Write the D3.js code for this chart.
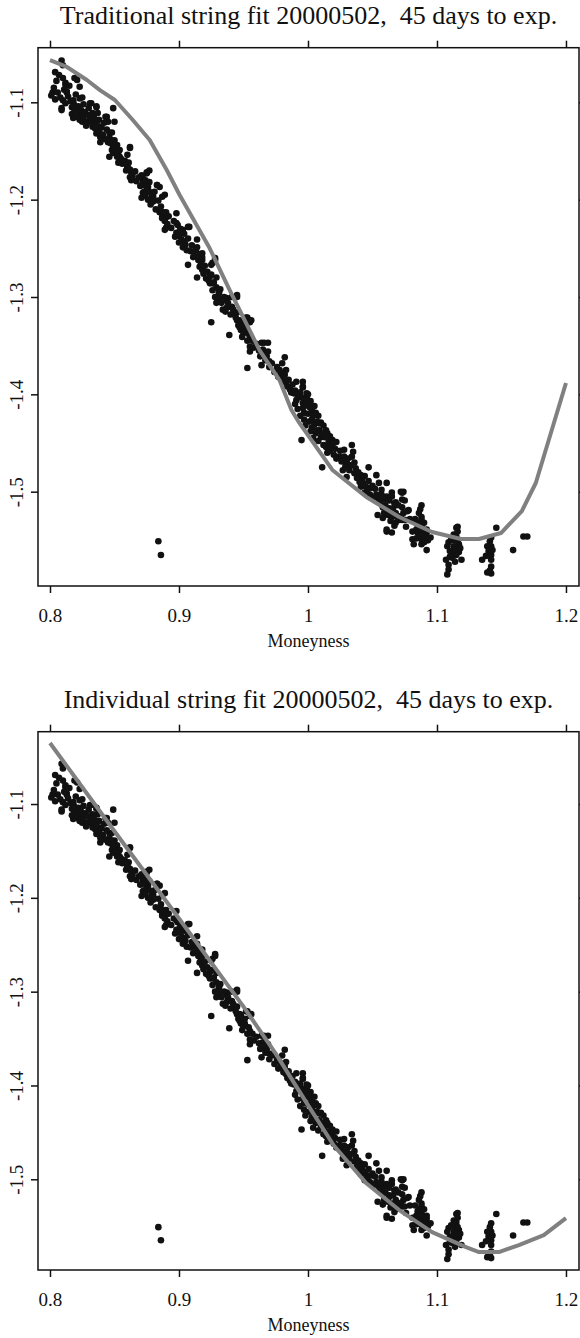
<!DOCTYPE html>
<html>
<head>
<meta charset="utf-8">
<script src="https://cdn.jsdelivr.net/npm/d3@7"></script>
<style>
  body { margin: 0; background: #fff; }
  svg { display: block; }
  text { font-family: "Liberation Serif", "Times New Roman", serif; fill: #111; }
</style>
</head>
<body>
<svg id="chart" width="580" height="1338"></svg>
<script>
// Observed implied-volatility points: [moneyness, log value]
const observed = [
  [0.809,-1.057],[0.810,-1.062],[0.804,-1.069],[0.810,-1.075],[0.819,-1.075],[0.812,-1.082],[0.823,-1.084],
  [0.802,-1.090],[0.806,-1.090],[0.804,-1.097],[0.813,-1.089],[0.818,-1.098],[0.823,-1.096],[0.809,-1.106],
  [0.817,-1.105],[0.821,-1.108],[0.825,-1.113],[0.818,-1.116],[0.831,-1.101],[0.836,-1.104],[0.833,-1.111],
  [0.829,-1.120],[0.833,-1.123],[0.839,-1.125],[0.844,-1.115],[0.849,-1.106],[0.850,-1.120],[0.846,-1.131],
  [0.839,-1.136],[0.850,-1.139],[0.862,-1.146],[0.849,-1.146],[0.854,-1.156],[0.853,-1.162],[0.860,-1.167],
  [0.864,-1.172],[0.875,-1.173],[0.872,-1.182],[0.876,-1.187],[0.872,-1.193],[0.880,-1.197],[0.889,-1.195],
  [0.885,-1.187],
  [0.812,-1.080],[0.821,-1.077],[0.813,-1.090],[0.810,-1.098],[0.809,-1.108],[0.818,-1.100],[0.819,-1.108],
  [0.822,-1.111],[0.825,-1.095],[0.825,-1.120],[0.832,-1.101],[0.836,-1.105],[0.837,-1.111],[0.831,-1.118],
  [0.833,-1.125],[0.843,-1.115],[0.845,-1.120],[0.836,-1.132],[0.848,-1.131],[0.839,-1.141],[0.845,-1.141],
  [0.852,-1.144],[0.848,-1.149],[0.853,-1.151],[0.846,-1.156],[0.854,-1.161],[0.862,-1.147],[0.860,-1.154],
  [0.860,-1.166],[0.863,-1.172],[0.862,-1.177],[0.875,-1.172],[0.872,-1.178],[0.873,-1.185],[0.875,-1.190],
  [0.871,-1.198],[0.879,-1.197],[0.883,-1.185],[0.887,-1.197],[0.880,-1.202],[0.885,-1.213],[0.887,-1.218],
  [0.890,-1.218],[0.890,-1.229],[0.898,-1.214],[0.898,-1.224],[0.899,-1.234],[0.907,-1.228],[0.900,-1.244],
  [0.904,-1.243],[0.914,-1.241],[0.914,-1.249],
  [0.877,-1.170],[0.877,-1.182],[0.883,-1.185],[0.879,-1.200],[0.887,-1.213],[0.890,-1.213],[0.887,-1.219],
  [0.903,-1.231],[0.898,-1.234],[0.889,-1.231],[0.908,-1.228],[0.903,-1.249],[0.906,-1.252],[0.911,-1.259],
  [0.918,-1.259],[0.907,-1.267],[0.916,-1.269],[0.914,-1.280],[0.925,-1.267],[0.928,-1.262],[0.924,-1.279],
  [0.926,-1.286],[0.929,-1.290],[0.931,-1.296],[0.928,-1.300],[0.937,-1.303],[0.945,-1.300],[0.939,-1.310],
  [0.934,-1.313],[0.925,-1.326],[0.945,-1.316],[0.947,-1.324],[0.948,-1.334],[0.952,-1.321],[0.955,-1.326],
  [0.939,-1.339],[0.949,-1.341],[0.955,-1.342],[0.966,-1.347],[0.969,-1.347],[0.955,-1.351],
  [0.918,-1.255],[0.918,-1.262],[0.918,-1.272],[0.926,-1.265],[0.928,-1.260],[0.929,-1.280],[0.924,-1.286],
  [0.931,-1.295],[0.931,-1.303],[0.929,-1.306],[0.937,-1.301],[0.941,-1.300],[0.945,-1.298],[0.937,-1.311],
  [0.941,-1.310],[0.943,-1.316],[0.945,-1.324],[0.953,-1.321],[0.956,-1.324],[0.947,-1.331],
  [0.951,-1.334],[0.964,-1.347],[0.965,-1.354],[0.969,-1.356],[0.968,-1.361],[0.964,-1.370],[0.970,-1.366],
  [0.955,-1.356],[0.953,-1.373],[0.982,-1.362],[0.980,-1.368],[0.978,-1.375],[0.983,-1.375],[0.980,-1.382],
  [0.991,-1.387],[0.996,-1.387],[0.983,-1.388],[0.986,-1.395],[0.989,-1.399],[0.993,-1.403],[0.996,-1.392],
  [0.999,-1.403],[0.991,-1.406],[0.996,-1.409],[1.003,-1.413],[0.999,-1.399],
  [0.996,-1.393],[0.995,-1.403],[0.999,-1.406],[1.001,-1.413],[0.997,-1.419],[1.003,-1.416],[1.006,-1.419],
  [1.003,-1.426],[1.007,-1.428],[1.010,-1.429],[1.003,-1.434],[1.009,-1.437],[1.006,-1.440],[1.010,-1.444],
  [0.995,-1.447],[1.015,-1.440],[1.019,-1.447],[1.014,-1.454],[1.018,-1.455],[1.015,-1.460],[1.020,-1.462],
  [1.024,-1.464],[1.034,-1.452],[1.028,-1.464],[1.030,-1.470],[1.034,-1.464],[1.036,-1.470],[1.032,-1.478],
  [1.027,-1.478],[1.036,-1.481],[1.030,-1.485],[1.011,-1.475],[1.041,-1.483],[1.042,-1.488],[1.047,-1.475],
  [1.053,-1.483],[1.041,-1.495],[1.045,-1.495],[1.049,-1.496],[1.044,-1.501],[1.055,-1.491],[1.057,-1.498],
  [1.053,-1.503],[1.061,-1.491],[1.055,-1.508],[1.059,-1.508],[1.058,-1.516],[1.061,-1.505],[1.065,-1.505],
  [1.068,-1.511],[1.063,-1.517],[1.059,-1.522],[1.054,-1.524],[1.058,-1.527],[1.065,-1.526],[1.068,-1.522],
  [1.072,-1.500],[1.074,-1.500],[1.073,-1.508],[1.073,-1.516],[1.074,-1.522],[1.071,-1.529],[1.068,-1.532],
  [1.061,-1.541],[1.065,-1.542],[1.088,-1.514],[1.086,-1.522],[1.088,-1.529],[1.085,-1.534],[1.088,-1.536],
  [1.092,-1.539],[1.081,-1.541],[1.085,-1.542],[1.115,-1.537],[1.113,-1.544],[1.146,-1.537],
  [1.065,-1.501],[1.067,-1.512],[1.063,-1.519],[1.061,-1.539],[1.073,-1.501],[1.073,-1.529],[1.078,-1.519],
  [1.076,-1.536],[1.088,-1.526],[1.086,-1.532],[1.090,-1.532],[1.084,-1.539],[1.081,-1.549],[1.082,-1.554],
  [1.088,-1.544],[1.092,-1.542],[1.088,-1.554],[1.092,-1.560],[1.088,-1.549],[1.095,-1.547],
  [1.116,-1.536],[1.116,-1.541],[1.115,-1.546],[1.109,-1.552],[1.108,-1.556],[1.113,-1.556],[1.117,-1.554],
  [1.112,-1.562],[1.117,-1.562],[1.107,-1.570],[1.115,-1.565],[1.119,-1.570],[1.109,-1.575],[1.109,-1.580],
  [1.108,-1.585],[1.142,-1.547],[1.139,-1.556],[1.142,-1.556],[1.135,-1.570],[1.142,-1.565],[1.142,-1.570],
  [1.142,-1.577],[1.139,-1.583],[1.142,-1.584],[1.159,-1.560],[1.167,-1.546],[1.170,-1.546],
  [0.884,-1.551],[0.886,-1.565],
  [0.801,-1.093],[0.803,-1.085],[0.805,-1.078],[0.807,-1.072],[0.808,-1.095],[0.811,-1.087],[0.812,-1.101],
  [0.814,-1.094],[0.815,-1.083],[0.816,-1.099],[0.817,-1.112],[0.819,-1.103],[0.820,-1.092],[0.821,-1.115],
  [0.822,-1.104],[0.823,-1.118],[0.824,-1.108],[0.826,-1.102],[0.826,-1.116],[0.827,-1.110],[0.828,-1.124],
  [0.830,-1.113],[0.830,-1.106],[0.832,-1.120],[0.834,-1.116],[0.835,-1.127],[0.836,-1.121],[0.838,-1.118],
  [0.838,-1.130],[0.840,-1.126],[0.841,-1.133],[0.842,-1.121],[0.843,-1.138],[0.844,-1.128],[0.846,-1.136],
  [0.847,-1.142],[0.848,-1.139],[0.849,-1.152],[0.850,-1.146],[0.851,-1.150],[0.852,-1.156],[0.854,-1.149],
  [0.855,-1.158],[0.856,-1.163],[0.858,-1.160],[0.859,-1.170],
  [0.861,-1.162],[0.862,-1.169],[0.863,-1.180],[0.864,-1.176],[0.866,-1.171],[0.867,-1.181],[0.869,-1.177],
  [0.870,-1.186],[0.871,-1.175],[0.873,-1.192],[0.874,-1.180],[0.874,-1.196],[0.876,-1.200],[0.877,-1.192],
  [0.878,-1.205],[0.881,-1.192],[0.882,-1.210],[0.884,-1.201],[0.886,-1.207],[0.888,-1.213],[0.889,-1.222],
  [0.891,-1.225],[0.892,-1.217],
  [0.894,-1.229],[0.896,-1.222],[0.897,-1.238],[0.899,-1.226],[0.900,-1.237],[0.901,-1.230],[0.902,-1.241],
  [0.904,-1.235],[0.905,-1.246],[0.907,-1.240],[0.909,-1.253],[0.910,-1.247],[0.912,-1.258],[0.913,-1.252],
  [0.915,-1.262],[0.916,-1.256],[0.917,-1.266],[0.919,-1.276],[0.920,-1.268],[0.921,-1.281],[0.922,-1.274],
  [0.923,-1.283],[0.925,-1.277],[0.926,-1.293],[0.927,-1.285],[0.930,-1.300],[0.932,-1.292],[0.933,-1.306],
  [0.935,-1.300],[0.936,-1.315],[0.938,-1.306],[0.940,-1.318],[0.942,-1.313],[0.944,-1.321],[0.946,-1.329],
  [0.948,-1.325],[0.950,-1.337],[0.951,-1.329],[0.953,-1.345],[0.954,-1.338],[0.957,-1.345],[0.958,-1.352],
  [0.960,-1.348],
  [0.962,-1.355],[0.963,-1.361],[0.966,-1.359],[0.967,-1.365],[0.970,-1.372],[0.972,-1.368],[0.974,-1.377],
  [0.976,-1.372],[0.977,-1.382],[0.979,-1.378],[0.981,-1.386],[0.982,-1.380],[0.984,-1.392],[0.985,-1.385],
  [0.987,-1.398],[0.988,-1.390],[0.990,-1.396],[0.990,-1.410],[0.992,-1.401],[0.992,-1.415],[0.994,-1.398],
  [0.994,-1.422],
  [0.996,-1.414],[0.997,-1.426],[0.998,-1.411],[0.998,-1.432],[1.000,-1.420],[1.000,-1.400],[1.001,-1.428],
  [1.002,-1.407],[1.002,-1.438],[1.004,-1.422],[1.004,-1.445],[1.005,-1.431],[1.005,-1.412],[1.007,-1.437],
  [1.008,-1.422],[1.008,-1.448],[1.009,-1.430],[1.011,-1.441],[1.012,-1.432],[1.012,-1.452],[1.013,-1.444],
  [1.014,-1.437],[1.016,-1.449],[1.017,-1.443],[1.017,-1.458],[1.019,-1.452],[1.021,-1.456],[1.022,-1.449],
  [1.022,-1.466],
  [1.025,-1.458],[1.026,-1.469],[1.028,-1.457],[1.029,-1.474],[1.031,-1.466],[1.033,-1.473],[1.035,-1.459],
  [1.037,-1.476],[1.038,-1.486],[1.039,-1.480],[1.040,-1.490],[1.043,-1.492],[1.044,-1.484],[1.046,-1.499],
  [1.047,-1.489],[1.048,-1.503],[1.050,-1.494],[1.051,-1.506],[1.052,-1.497],
  [1.056,-1.511],[1.057,-1.503],[1.060,-1.514],[1.062,-1.524],[1.063,-1.509],[1.064,-1.530],[1.066,-1.517],
  [1.067,-1.535],[1.069,-1.526],[1.070,-1.514],[1.072,-1.525],[1.075,-1.509],[1.075,-1.529],[1.077,-1.520],
  [1.079,-1.528],[1.083,-1.528],[1.084,-1.548],[1.086,-1.543],[1.087,-1.518],[1.089,-1.540],[1.090,-1.552],
  [1.091,-1.546],[1.093,-1.550],
  [1.110,-1.561],[1.111,-1.549],[1.112,-1.568],[1.113,-1.550],[1.114,-1.559],[1.116,-1.551],[1.118,-1.558],
  [1.110,-1.567],[1.114,-1.572],
  [1.141,-1.551],[1.140,-1.561],[1.143,-1.560],[1.141,-1.581],[1.138,-1.566]
];

// Fitted curves
const traditionalFit = [
  [0.800,-1.0566],[0.8131,-1.0637],[0.8286,-1.0771],[0.8387,-1.0874],[0.8503,-1.0976],[0.8642,-1.1182],
  [0.8773,-1.1387],[0.8905,-1.1695],[0.9005,-1.1952],[0.9237,-1.2497],[0.9392,-1.2928],[0.9624,-1.3545],
  [0.9779,-1.3853],[0.9872,-1.4161],[0.9933,-1.4294],[1.0189,-1.4777],[1.0452,-1.5054],[1.0707,-1.5260],
  [1.0962,-1.5414],[1.1186,-1.5486],[1.1326,-1.5486],[1.1496,-1.5425],[1.1658,-1.5199],[1.1766,-1.4911],
  [1.200,-1.3884]
];
const individualFit = [
  [0.800,-1.035],[0.850,-1.129],[0.900,-1.222],[0.950,-1.316],[0.975,-1.366],[1.000,-1.421],
  [1.020,-1.464],[1.045,-1.504],[1.0707,-1.5328],[1.0962,-1.5563],
  [1.1225,-1.5723],[1.1326,-1.5776],[1.148,-1.5776],[1.1635,-1.5701],[1.1828,-1.5595],[1.200,-1.5414]
];

const xTicks = [0.8, 0.9, 1, 1.1, 1.2];
const yTicks = [-1.1, -1.2, -1.3, -1.4, -1.5];
const xLabel = "Moneyness";

const panels = [
  { title: "Traditional string fit 20000502,  45 days to exp.", fit: traditionalFit,
    top: 47.7, bottom: 586, titleY: 24, yDomain: [-1.5969, -1.0439] },
  { title: "Individual string fit 20000502,  45 days to exp.", fit: individualFit,
    top: 731.7, bottom: 1270, titleY: 708, yDomain: [-1.5967, -1.0229] }
];

const svg = d3.select("#chart");
const left = 38, right = 579;
const ink = "#111";
const serif = '"Liberation Serif", "Times New Roman", serif';

panels.forEach(p => {
  const x = d3.scaleLinear().domain([0.7907, 1.2101]).range([left, right]);
  const y = d3.scaleLinear().domain(p.yDomain).range([p.bottom, p.top]);
  const g = svg.append("g");

  // title
  g.append("text")
    .attr("x", (left + right) / 2)
    .attr("y", p.titleY)
    .attr("text-anchor", "middle")
    .attr("font-size", 26)
    .style("white-space", "pre")
    .attr("xml:space", "preserve")
    .text(p.title);

  // points
  g.append("g").selectAll("circle")
    .data(observed)
    .join("circle")
    .attr("cx", d => x(d[0]))
    .attr("cy", d => y(d[1]))
    .attr("r", 3.3)
    .attr("fill", ink);

  // fitted curve
  g.append("path")
    .datum(p.fit)
    .attr("fill", "none")
    .attr("stroke", "#808080")
    .attr("stroke-width", 4)
    .attr("stroke-linejoin", "round")
    .attr("d", d3.line().x(d => x(d[0])).y(d => y(d[1])));

  // frame
  g.append("rect")
    .attr("x", left).attr("y", p.top)
    .attr("width", right - left).attr("height", p.bottom - p.top)
    .attr("fill", "none").attr("stroke", ink).attr("stroke-width", 1.5);

  const styleAxis = sel => {
    sel.attr("font-family", null).attr("font-size", null);
    sel.select(".domain").remove();
    sel.selectAll(".tick line").attr("stroke", ink).attr("stroke-width", 1.5);
    sel.selectAll(".tick text").style("font-family", serif).attr("font-size", 19).attr("fill", ink);
  };

  // bottom axis with labels
  g.append("g")
    .attr("transform", `translate(0,${p.bottom})`)
    .call(d3.axisBottom(x).tickValues(xTicks).tickSize(7).tickSizeOuter(0).tickFormat(d => String(d)))
    .call(styleAxis)
    .call(s => s.selectAll(".tick text").attr("y", 36).attr("dy", null));

  // top axis, ticks only
  g.append("g")
    .attr("transform", `translate(0,${p.top})`)
    .call(d3.axisTop(x).tickValues(xTicks).tickSize(7).tickSizeOuter(0).tickFormat(""))
    .call(styleAxis);

  // left axis with rotated labels
  g.append("g")
    .attr("transform", `translate(${left},0)`)
    .call(d3.axisLeft(y).tickValues(yTicks).tickSize(7).tickSizeOuter(0).tickFormat(d => String(d)))
    .call(styleAxis)
    .call(s => s.selectAll(".tick text")
      .attr("x", null).attr("dy", null)
      .attr("transform", "translate(-15,0) rotate(-90)")
      .attr("text-anchor", "middle"));

  // right axis, ticks only
  g.append("g")
    .attr("transform", `translate(${right},0)`)
    .call(d3.axisRight(y).tickValues(yTicks).tickSize(7).tickSizeOuter(0).tickFormat(""))
    .call(styleAxis);

  // x axis title
  g.append("text")
    .attr("x", (left + right) / 2)
    .attr("y", p.bottom + 61)
    .attr("text-anchor", "middle")
    .attr("font-size", 18)
    .text(xLabel);
});
</script>
</body>
</html>
